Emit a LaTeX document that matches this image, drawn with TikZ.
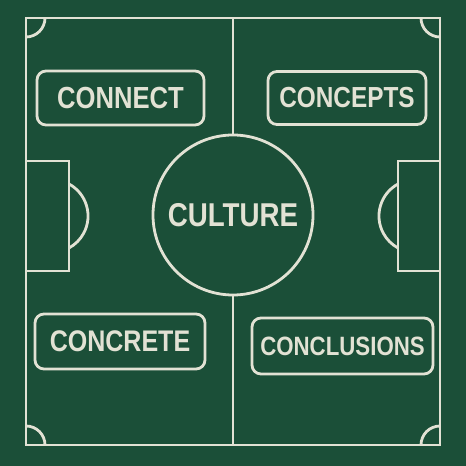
\documentclass[tikz,border=0pt]{standalone}
\usepackage{fontspec}
\usetikzlibrary{calc}
\newfontfamily\chalkfont[FakeStretch=0.84]{Liberation Sans}
\definecolor{pitch}{RGB}{27,79,56}
\definecolor{chalk}{RGB}{226,226,212}

\begin{document}
\begin{tikzpicture}[x=1pt,y=1pt,
    line/.style={draw=chalk, line width=2.8pt},
    word/.style={line, rounded corners=9pt, text=chalk, inner sep=0pt,
      font=\chalkfont\bfseries\fontsize{#1}{#1}\selectfont}]

      % Background
      \fill[pitch] (0,0) rectangle (466,466);
      \useasboundingbox (0,0) rectangle (466,466);

      % Pitch outline
      \draw[line] (26,21) rectangle (440,448);
      \coordinate (top) at (233,448);
      \coordinate (bottom) at (233,21);

      % Centre circle
      \node[line, circle, minimum size=160pt, inner sep=0pt, text=chalk,
        font=\chalkfont\bfseries\fontsize{33}{33}\selectfont] (culture) at (233,251) {CULTURE};
      \draw[line] (top) -- (culture.north);
      \draw[line] (culture.south) -- (bottom);

      % Penalty boxes
      \draw[line] (26,195) rectangle (69,305);
      \draw[line] (69,282) arc[start angle=61.5, end angle=-61.5, radius=36.4];
      \draw[line] (398,195) rectangle (440,305);
      \draw[line] (398,282) arc[start angle=118.5, end angle=241.5, radius=36.4];

      % Corners
      \draw[line] (45,448) arc[start angle=0, end angle=-90, radius=19];
      \draw[line] (421,448) arc[start angle=180, end angle=270, radius=19];
      \draw[line] (45,21) arc[start angle=0, end angle=90, radius=19];
      \draw[line] (421,21) arc[start angle=180, end angle=90, radius=19];

      % Labels
      \node[word=30.5, minimum width=167pt, minimum height=54pt] (connect) at (120.5,368) {CONNECT};
      \node[word=29, minimum width=158pt, minimum height=53pt] (concepts) at (347,368) {CONCEPTS};
      \node[word=29.8, minimum width=170pt, minimum height=55pt] (concrete) at (120,124.5) {CONCRETE};
      \node[word=26.5, minimum width=181pt, minimum height=56pt] (conclusions) at (342.5,120) {CONCLUSIONS};

  \end{tikzpicture}
\end{document}
